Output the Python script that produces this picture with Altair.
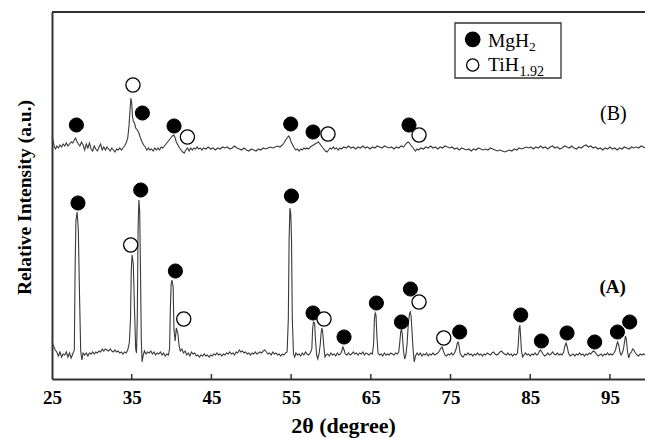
import altair as alt
import pandas as pd

# ---------------- data (2theta in degree, intensity in arbitrary units) ----------------
trace_a = [
    (25.0, 36), (25.2, 33), (25.4, 29), (25.6, 27), (25.8, 23), (26.0, 27), (26.2, 22), (26.4, 25),
    (26.6, 24), (26.8, 27), (27.0, 22), (27.2, 26), (27.4, 21), (27.6, 25), (27.8, 29), (27.9, 110),
    (28.0, 158), (28.15, 167), (28.3, 150), (28.45, 85), (28.6, 28), (28.75, 19), (28.9, 26), (29.1, 24),
    (29.3, 26), (29.5, 23), (29.7, 26), (29.9, 25), (30.1, 27), (30.3, 25), (30.5, 27), (30.7, 26),
    (30.9, 28), (31.1, 27), (31.3, 30), (31.5, 28), (31.7, 30), (31.9, 29), (32.1, 28), (32.3, 30),
    (32.5, 28), (32.7, 27), (32.9, 29), (33.1, 27), (33.3, 28), (33.5, 26), (33.7, 27), (33.9, 25),
    (34.1, 27), (34.3, 26), (34.5, 29), (34.7, 36), (34.85, 60), (34.95, 110), (35.05, 124), (35.2, 115),
    (35.35, 70), (35.5, 30), (35.6, 26), (35.7, 60), (35.8, 150), (35.9, 179), (36.0, 168), (36.1, 110),
    (36.2, 40), (36.3, 17), (36.45, 24), (36.6, 28), (36.8, 25), (37.0, 27), (37.2, 26), (37.4, 28),
    (37.6, 25), (37.8, 27), (38.0, 24), (38.2, 26), (38.4, 25), (38.6, 27), (38.8, 24), (39.0, 26),
    (39.2, 23), (39.4, 25), (39.6, 24), (39.75, 30), (39.85, 70), (39.95, 95), (40.05, 99), (40.2, 92),
    (40.3, 50), (40.45, 38), (40.6, 51), (40.7, 48), (40.8, 45), (40.95, 33), (41.1, 28), (41.3, 30),
    (41.5, 26), (41.7, 28), (41.9, 24), (42.1, 26), (42.3, 23), (42.5, 27), (42.7, 25), (42.9, 26),
    (43.1, 23), (43.3, 24), (43.5, 22), (43.7, 24), (43.9, 23), (44.1, 25), (44.3, 23), (44.5, 24),
    (44.7, 22), (44.9, 24), (45.1, 23), (45.3, 25), (45.5, 24), (45.7, 26), (45.9, 24), (46.1, 25),
    (46.3, 23), (46.5, 25), (46.7, 24), (46.9, 26), (47.1, 25), (47.3, 27), (47.5, 25), (47.7, 26),
    (47.9, 24), (48.1, 27), (48.3, 26), (48.5, 29), (48.7, 27), (48.9, 28), (49.1, 26), (49.3, 27),
    (49.5, 25), (49.7, 26), (49.9, 24), (50.1, 26), (50.3, 25), (50.5, 27), (50.7, 25), (50.9, 26),
    (51.1, 27), (51.3, 26), (51.5, 28), (51.7, 29), (51.9, 27), (52.1, 25), (52.3, 26), (52.5, 24),
    (52.7, 27), (52.9, 25), (53.1, 26), (53.3, 24), (53.5, 25), (53.7, 23), (53.9, 25), (54.1, 24),
    (54.3, 26), (54.5, 27), (54.65, 60), (54.75, 140), (54.85, 171), (54.95, 166), (55.05, 140), (55.15, 60),
    (55.3, 25), (55.45, 22), (55.6, 26), (55.8, 24), (56.0, 25), (56.2, 23), (56.4, 26), (56.6, 24),
    (56.8, 27), (57.0, 25), (57.2, 24), (57.4, 26), (57.6, 30), (57.7, 50), (57.8, 57), (57.95, 56),
    (58.05, 40), (58.2, 24), (58.35, 20), (58.5, 25), (58.65, 34), (58.75, 45), (58.85, 51), (58.95, 48),
    (59.1, 33), (59.25, 22), (59.4, 24), (59.6, 25), (59.8, 23), (60.0, 26), (60.2, 24), (60.4, 25),
    (60.6, 23), (60.8, 26), (61.0, 24), (61.2, 25), (61.35, 28), (61.5, 32), (61.65, 29), (61.8, 25),
    (62.0, 24), (62.2, 26), (62.4, 24), (62.6, 25), (62.8, 27), (63.0, 25), (63.2, 26), (63.4, 24),
    (63.6, 26), (63.8, 25), (64.0, 27), (64.2, 24), (64.4, 26), (64.6, 25), (64.8, 24), (65.0, 26),
    (65.2, 25), (65.35, 35), (65.45, 60), (65.55, 66), (65.65, 64), (65.75, 45), (65.9, 26), (66.1, 24),
    (66.3, 25), (66.5, 23), (66.7, 26), (66.9, 24), (67.1, 25), (67.3, 24), (67.5, 26), (67.7, 25),
    (67.9, 24), (68.1, 26), (68.3, 25), (68.5, 27), (68.65, 38), (68.75, 47), (68.85, 49), (68.95, 45),
    (69.1, 28), (69.25, 20), (69.4, 24), (69.55, 35), (69.7, 55), (69.85, 65), (69.95, 67), (70.05, 63),
    (70.15, 50), (70.3, 30), (70.45, 17), (70.6, 23), (70.8, 26), (71.0, 24), (71.2, 26), (71.4, 23),
    (71.6, 25), (71.8, 24), (72.0, 26), (72.2, 23), (72.4, 25), (72.6, 24), (72.8, 26), (73.0, 24),
    (73.2, 25), (73.4, 26), (73.6, 28), (73.8, 31), (73.95, 32), (74.1, 28), (74.3, 24), (74.5, 23),
    (74.7, 25), (74.9, 24), (75.1, 26), (75.3, 24), (75.5, 26), (75.7, 30), (75.85, 36), (75.95, 37),
    (76.05, 34), (76.2, 26), (76.4, 23), (76.6, 22), (76.8, 25), (77.0, 24), (77.2, 26), (77.4, 24),
    (77.6, 25), (77.8, 23), (78.0, 25), (78.2, 24), (78.4, 26), (78.6, 24), (78.8, 25), (79.0, 23),
    (79.2, 25), (79.4, 24), (79.6, 26), (79.8, 25), (80.0, 24), (80.2, 26), (80.4, 27), (80.6, 25),
    (80.8, 24), (81.0, 25), (81.2, 27), (81.4, 28), (81.6, 26), (81.8, 25), (82.0, 24), (82.2, 26),
    (82.4, 24), (82.6, 25), (82.8, 23), (83.0, 25), (83.2, 24), (83.4, 26), (83.5, 35), (83.6, 50),
    (83.7, 54), (83.8, 42), (83.9, 28), (84.05, 22), (84.2, 24), (84.4, 26), (84.6, 24), (84.8, 25),
    (85.0, 23), (85.2, 25), (85.4, 24), (85.6, 26), (85.8, 24), (86.0, 25), (86.15, 28), (86.3, 29),
    (86.45, 27), (86.6, 25), (86.8, 23), (87.0, 24), (87.2, 26), (87.4, 24), (87.6, 25), (87.8, 27),
    (88.0, 25), (88.2, 24), (88.4, 26), (88.6, 24), (88.8, 25), (89.0, 24), (89.2, 27), (89.35, 33),
    (89.5, 36), (89.65, 32), (89.8, 26), (90.0, 23), (90.2, 24), (90.4, 25), (90.6, 23), (90.8, 25),
    (91.0, 24), (91.2, 26), (91.4, 24), (91.6, 25), (91.8, 23), (92.0, 25), (92.2, 24), (92.4, 26),
    (92.6, 25), (92.8, 27), (92.95, 28), (93.1, 27), (93.3, 25), (93.5, 23), (93.7, 24), (93.9, 25),
    (94.1, 23), (94.3, 25), (94.5, 24), (94.7, 26), (94.9, 24), (95.1, 25), (95.3, 24), (95.5, 26),
    (95.7, 29), (95.85, 34), (95.95, 37), (96.1, 34), (96.25, 27), (96.4, 24), (96.55, 26), (96.7, 30),
    (96.85, 38), (96.95, 43), (97.05, 40), (97.2, 28), (97.35, 21), (97.5, 25), (97.7, 27), (97.85, 30),
    (98.0, 29), (98.2, 26), (98.4, 24), (98.6, 23), (98.8, 25), (99.0, 24), (99.2, 25), (99.4, 24),
]

trace_b = [
    (25.0, 242), (25.15, 238), (25.3, 232), (25.45, 230), (25.6, 233), (25.8, 231), (26.0, 234), (26.2, 232),
    (26.4, 235), (26.6, 233), (26.8, 236), (27.0, 233), (27.2, 235), (27.4, 237), (27.6, 236), (27.8, 239),
    (27.95, 241), (28.1, 238), (28.3, 235), (28.5, 233), (28.7, 237), (28.9, 234), (29.1, 229), (29.3, 235),
    (29.5, 231), (29.7, 236), (29.9, 230), (30.1, 228), (30.3, 233), (30.5, 230), (30.7, 228), (30.9, 232),
    (31.1, 235), (31.3, 229), (31.5, 232), (31.7, 229), (31.9, 232), (32.1, 230), (32.3, 228), (32.5, 231),
    (32.7, 229), (32.9, 227), (33.1, 230), (33.3, 229), (33.5, 231), (33.7, 229), (33.9, 231), (34.1, 233),
    (34.3, 236), (34.5, 241), (34.65, 252), (34.8, 270), (34.9, 281), (35.0, 276), (35.1, 262), (35.2, 258),
    (35.35, 256), (35.5, 251), (35.7, 249), (35.9, 246), (36.1, 241), (36.3, 237), (36.5, 234), (36.7, 232),
    (36.9, 229), (37.1, 231), (37.3, 229), (37.5, 230), (37.7, 228), (37.9, 231), (38.1, 229), (38.3, 231),
    (38.5, 229), (38.7, 232), (38.9, 231), (39.1, 233), (39.3, 235), (39.5, 237), (39.7, 239), (39.9, 241),
    (40.1, 243), (40.3, 244), (40.45, 241), (40.6, 237), (40.8, 234), (41.0, 231), (41.2, 229), (41.4, 227),
    (41.6, 226), (41.8, 229), (42.0, 231), (42.2, 228), (42.4, 231), (42.6, 229), (42.8, 231), (43.0, 230),
    (43.2, 232), (43.4, 230), (43.6, 231), (43.8, 229), (44.0, 231), (44.3, 230), (44.6, 232), (44.9, 230),
    (45.2, 231), (45.5, 229), (45.8, 231), (46.1, 230), (46.4, 232), (46.7, 231), (47.0, 232), (47.3, 230),
    (47.6, 231), (47.9, 233), (48.2, 231), (48.5, 230), (48.8, 229), (49.1, 231), (49.4, 229), (49.7, 228),
    (50.0, 230), (50.3, 229), (50.6, 228), (50.9, 230), (51.2, 229), (51.5, 231), (51.8, 230), (52.1, 231),
    (52.4, 232), (52.7, 231), (53.0, 232), (53.3, 233), (53.6, 232), (53.9, 234), (54.1, 236), (54.3, 239),
    (54.5, 241), (54.7, 243), (54.85, 241), (55.0, 237), (55.2, 234), (55.4, 231), (55.6, 229), (55.8, 230),
    (56.0, 228), (56.2, 230), (56.4, 229), (56.6, 231), (56.8, 230), (57.0, 231), (57.2, 230), (57.4, 232),
    (57.6, 233), (57.8, 234), (58.0, 235), (58.2, 236), (58.4, 237), (58.55, 236), (58.7, 234), (58.9, 232),
    (59.1, 230), (59.3, 228), (59.5, 227), (59.7, 229), (59.9, 231), (60.1, 230), (60.3, 232), (60.5, 230),
    (60.7, 231), (60.9, 229), (61.1, 231), (61.3, 230), (61.6, 232), (61.9, 231), (62.2, 233), (62.5, 231),
    (62.8, 232), (63.1, 230), (63.4, 232), (63.7, 231), (64.0, 233), (64.3, 231), (64.6, 232), (64.9, 230),
    (65.2, 232), (65.5, 231), (65.8, 233), (66.1, 232), (66.4, 231), (66.7, 233), (67.0, 232), (67.3, 231),
    (67.6, 232), (67.9, 230), (68.2, 232), (68.5, 231), (68.8, 233), (69.1, 232), (69.3, 234), (69.5, 236),
    (69.7, 237), (69.85, 236), (70.0, 234), (70.2, 232), (70.4, 230), (70.6, 228), (70.8, 230), (71.0, 229),
    (71.3, 231), (71.6, 230), (71.9, 232), (72.2, 231), (72.5, 233), (72.8, 231), (73.1, 232), (73.4, 230),
    (73.7, 232), (74.0, 231), (74.3, 233), (74.6, 232), (74.9, 231), (75.2, 232), (75.5, 230), (75.8, 231),
    (76.1, 229), (76.4, 231), (76.7, 230), (77.0, 229), (77.3, 230), (77.6, 228), (77.9, 230), (78.2, 229),
    (78.5, 231), (78.8, 230), (79.1, 229), (79.4, 230), (79.7, 229), (80.0, 231), (80.3, 230), (80.6, 229),
    (80.9, 228), (81.2, 229), (81.5, 228), (81.8, 227), (82.1, 228), (82.4, 229), (82.7, 228), (83.0, 230),
    (83.3, 229), (83.6, 231), (83.9, 230), (84.2, 231), (84.5, 232), (84.8, 231), (85.1, 232), (85.4, 230),
    (85.7, 232), (86.0, 231), (86.3, 233), (86.6, 231), (86.9, 232), (87.2, 230), (87.5, 232), (87.8, 233),
    (88.1, 231), (88.4, 232), (88.7, 230), (89.0, 231), (89.3, 233), (89.6, 232), (89.9, 231), (90.2, 233),
    (90.5, 231), (90.8, 230), (91.1, 232), (91.4, 231), (91.7, 233), (92.0, 234), (92.3, 232), (92.6, 233),
    (92.9, 231), (93.2, 232), (93.5, 230), (93.8, 231), (94.1, 229), (94.4, 231), (94.7, 230), (95.0, 232),
    (95.3, 230), (95.6, 231), (95.9, 229), (96.2, 231), (96.5, 230), (96.8, 232), (97.1, 231), (97.4, 230),
    (97.7, 232), (98.0, 231), (98.3, 232), (98.6, 231), (98.9, 233), (99.2, 232), (99.4, 231),
]

# phase markers (2theta, marker height)
mgh2_a = [(28.26, 176), (36.13, 189), (40.48, 108), (55.04, 183), (57.75, 66), (61.64, 42),
          (65.70, 76), (68.84, 57), (69.97, 90), (76.15, 47), (83.81, 64), (86.40, 38),
          (89.62, 46), (93.09, 37), (95.94, 47), (97.48, 57)]
tih_a = [(34.87, 134), (41.53, 60), (59.13, 60), (71.05, 77), (74.15, 41)]
mgh2_b = [(28.06, 254), (36.34, 266), (40.31, 253), (54.95, 255), (57.75, 247), (69.79, 254)]
tih_b = [(35.16, 294), (41.99, 242), (59.63, 245), (71.05, 244)]

x_ticks = [25, 35, 45, 55, 65, 75, 85, 95]

# ---------------- layout ----------------
W, H = 593, 367
FONT = "Liberation Serif"
INK = "#333333"

rows = [{"theta": t, "intensity": v, "pattern": "A"} for t, v in trace_a]
rows += [{"theta": t, "intensity": v, "pattern": "B"} for t, v in trace_b]
df_lines = pd.DataFrame(rows)

mrows = [{"theta": t, "intensity": v, "phase": "MgH2"} for t, v in mgh2_a + mgh2_b]
mrows += [{"theta": t, "intensity": v, "phase": "TiH1.92"} for t, v in tih_a + tih_b]
df_mark = pd.DataFrame(mrows)
df_ticks = pd.DataFrame({"theta": x_ticks[1:]})
one = pd.DataFrame({"d": [0]})

xs = alt.Scale(domain=[25, 99.4], nice=False, zero=False)
ys = alt.Scale(domain=[0, H], nice=False, zero=False)

x_axis = alt.Axis(
    values=x_ticks, format="d", ticks=False, tickSize=0, grid=False,
    domainColor=INK, domainWidth=2,
    labelFont=FONT, labelFontSize=19, labelFontWeight="bold", labelColor="black",
    labelPadding=9, labelFlush=False, labelOverlap=False,
    title="2θ (degree)", titleFont=FONT, titleFontSize=22, titleFontWeight="bold",
    titleColor="black", titleX=291, titleY=53, titleAlign="center", titleBaseline="alphabetic",
)
y_axis = alt.Axis(
    labels=False, ticks=False, grid=False, domainColor=INK, domainWidth=2,
    title="Relative Intensity (a.u.)", titleFont=FONT, titleFontSize=19.5,
    titleFontWeight="bold", titleColor="black", titleAngle=270,
    titleX=-22, titleY=185, titleAlign="center", titleBaseline="alphabetic",
)
x_enc = alt.X("theta:Q", scale=xs, axis=x_axis)
y_enc = alt.Y("intensity:Q", scale=ys, axis=y_axis)

lines = alt.Chart(df_lines).mark_line(color="#3a3a3a", strokeWidth=1.1).encode(
    x=x_enc, y=y_enc, detail="pattern:N"
)

filled_pts = alt.Chart(df_mark).transform_filter(alt.datum.phase == "MgH2").mark_point(
    shape="circle", filled=True, fill="black", stroke="black", strokeWidth=1, size=200, opacity=1
).encode(x=x_enc, y=y_enc)

open_pts = alt.Chart(df_mark).transform_filter(alt.datum.phase == "TiH1.92").mark_point(
    shape="circle", filled=True, fill="white", stroke="black", strokeWidth=1.3, size=200, opacity=1
).encode(x=x_enc, y=y_enc)

inner_ticks = alt.Chart(df_ticks).mark_rule(color=INK, strokeWidth=1.5).encode(
    x=x_enc, y=alt.value(H), y2=alt.value(H - 5)
)

top_frame = alt.Chart(one).mark_rule(color=INK, strokeWidth=2).encode(
    x=alt.value(0), x2=alt.value(W), y=alt.value(0)
)

legend_box = alt.Chart(one).mark_rect(fill="white", stroke=INK, strokeWidth=1.3).encode(
    x=alt.value(403), x2=alt.value(509), y=alt.value(11), y2=alt.value(66)
)
leg_filled = alt.Chart(one).mark_point(
    shape="circle", filled=True, fill="black", stroke="black", size=190, opacity=1
).encode(x=alt.value(420.7), y=alt.value(27.3))
leg_open = alt.Chart(one).mark_point(
    shape="circle", filled=True, fill="white", stroke="black", strokeWidth=1.3, size=150, opacity=1
).encode(x=alt.value(420.7), y=alt.value(53))


def txt(s, x, y, size, weight="normal", align="left"):
    return alt.Chart(one).mark_text(
        font=FONT, fontSize=size, fontWeight=weight, color="black",
        align=align, baseline="alphabetic"
    ).encode(x=alt.value(x), y=alt.value(y), text=alt.value(s))


texts = [
    txt("MgH", 436, 34.7, 19.5),
    txt("2", 477, 39, 13.5),
    txt("TiH", 436, 58.5, 19.5),
    txt("1.92", 467.5, 63.5, 14),
    txt("(A)", 560.7, 281, 19, "bold", "center"),
    txt("(B)", 561.3, 108, 20, "normal", "center"),
]

chart = alt.layer(
    lines, inner_ticks, top_frame, filled_pts, open_pts,
    legend_box, leg_filled, leg_open, *texts
).properties(
    width=W, height=H,
    autosize=alt.AutoSizeParams(type="none"),
    padding={"left": 52, "top": 12, "right": 0, "bottom": 59},
).configure_view(stroke=None).configure(background="white")

chart.save("out.html", embed_options={"renderer": "svg", "actions": False})
